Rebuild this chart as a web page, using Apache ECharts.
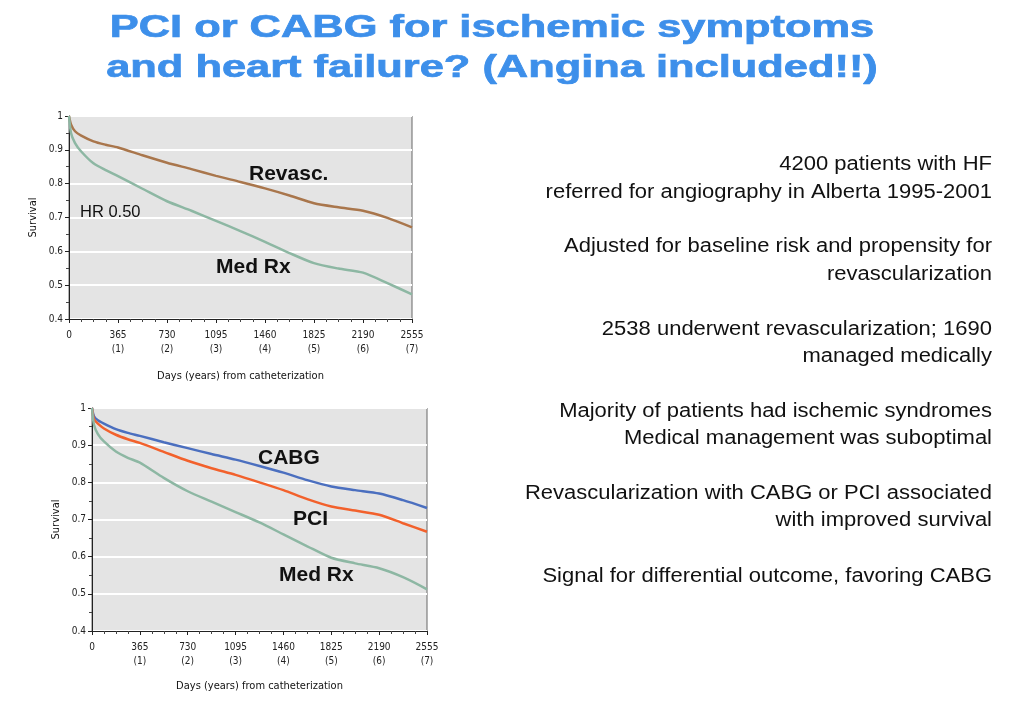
<!DOCTYPE html>
<html><head><meta charset="utf-8">
<script src="https://cdn.jsdelivr.net/npm/echarts@6/dist/echarts.min.js"></script>
<style>html,body{margin:0;padding:0;background:#fff}#c{width:1024px;height:720px}</style>
</head><body><div id="c"></div>
<script>
const days = [0, 15, 45, 91, 182, 273, 365, 547, 730, 912, 1095, 1277, 1460, 1642, 1825, 2007, 2190, 2372, 2555];
const topRevasc = [1.0, 0.975, 0.955, 0.942, 0.925, 0.915, 0.907, 0.884, 0.862, 0.843, 0.823, 0.805, 0.786, 0.765, 0.742, 0.730, 0.720, 0.699, 0.671];
const topMedRx = [1.0, 0.95, 0.92, 0.895, 0.86, 0.84, 0.822, 0.785, 0.748, 0.72, 0.69, 0.66, 0.628, 0.595, 0.565, 0.549, 0.537, 0.506, 0.473];
const botCABG = [1.0, 0.978, 0.967, 0.958, 0.943, 0.933, 0.925, 0.908, 0.892, 0.876, 0.861, 0.844, 0.826, 0.806, 0.789, 0.779, 0.770, 0.752, 0.731];
const botPCI = [1.0, 0.97, 0.958, 0.945, 0.928, 0.916, 0.906, 0.882, 0.858, 0.838, 0.82, 0.80, 0.779, 0.755, 0.735, 0.724, 0.713, 0.69, 0.667];
const botMedRx = [1.0, 0.955, 0.93, 0.91, 0.883, 0.866, 0.853, 0.812, 0.776, 0.748, 0.72, 0.692, 0.66, 0.628, 0.597, 0.582, 0.569, 0.545, 0.512];
const yTicks = ['0.4', '0.5', '0.6', '0.7', '0.8', '0.9', '1'];
const titleLines = ['PCI or CABG for ischemic symptoms', 'and heart failure? (Angina included!!)'];
const bullets = [
  ['4200 patients with HF', 'referred for angiography in Alberta 1995-2001'],
  ['Adjusted for baseline risk and propensity for', 'revascularization'],
  ['2538 underwent revascularization; 1690', 'managed medically'],
  ['Majority of patients had ischemic syndromes', 'Medical management was suboptimal'],
  ['Revascularization with CABG or PCI associated', 'with improved survival'],
  ['Signal for differential outcome, favoring CABG']
];

const pair = arr => days.map((d, i) => [d, arr[i]]);
const axFont = 'DejaVu Sans Condensed';
function xAxis(gi) {
  return {
    type: 'value', gridIndex: gi, min: 0, max: 2555, interval: 365,
    name: 'Days (years) from catheterization', nameLocation: 'middle', nameGap: gi === 0 ? 52 : 50,
    nameTextStyle: { fontFamily: axFont, fontSize: 11, color: '#111' },
    axisLine: { show: true, lineStyle: { color: '#222', width: 1 } },
    axisTick: { show: true, length: 4, lineStyle: { color: '#222' } },
    minorTick: { show: true, splitNumber: 4, length: 3, lineStyle: { color: '#444' } },
    splitLine: { show: false },
    axisLabel: {
      fontFamily: axFont, fontSize: 10, color: '#222', margin: 9, lineHeight: 14,
      formatter: v => v === 0 ? '0\n ' : v + '\n(' + Math.round(v / 365) + ')'
    }
  };
}
function yAxis(gi) {
  return {
    type: 'value', gridIndex: gi, min: 0.4, max: 1, interval: 0.1,
    name: 'Survival', nameLocation: 'middle', nameGap: 30, nameRotate: 90,
    nameTextStyle: { fontFamily: axFont, fontSize: 11, color: '#111' },
    axisLine: { show: true, lineStyle: { color: '#222', width: 1 } },
    axisTick: { show: true, length: 4, lineStyle: { color: '#222' } },
    minorTick: { show: true, splitNumber: 2, length: 3, lineStyle: { color: '#444' } },
    splitLine: { show: true, lineStyle: { color: '#ffffff', width: 2 } },
    axisLabel: {
      fontFamily: axFont, fontSize: 10, color: '#222', margin: 6,
      formatter: v => yTicks[Math.round((v - 0.4) * 10)]
    }
  };
}
function line(name, arr, gi, color) {
  return { name, type: 'line', xAxisIndex: gi, yAxisIndex: gi, data: pair(arr), showSymbol: false,
    smooth: 0.25, lineStyle: { color, width: 2.5 }, itemStyle: { color }, z: 3 };
}
const bold = { fontFamily: 'Liberation Sans', fontWeight: 'bold', fontSize: 21, fill: '#111' };
const graphics = [];
const titleY = [28, 68];
titleLines.forEach((t, i) => graphics.push({ type: 'text', x: 492, y: titleY[i], scaleX: 1.4,
  style: { text: t, fontFamily: 'Liberation Sans', fontWeight: 'bold', fontSize: 31, fill: '#3d8fea',
    stroke: '#3d8fea', lineWidth: 0.7, align: 'center', verticalAlign: 'middle' } }));
const ys = [[164, 192], [246, 274], [329, 356], [411, 438], [493, 520], [576]];
bullets.forEach((b, i) => b.forEach((t, j) => graphics.push({ type: 'text', x: 992, y: ys[i][j], scaleX: 1.1,
  style: { text: t, fontFamily: 'Liberation Sans', fontSize: 20, fill: '#111', align: 'right', verticalAlign: 'middle' } })));
[['Revasc.', 249, 174, true], ['HR 0.50', 80, 212, false], ['Med Rx', 216, 267, true],
 ['CABG', 258, 458, true], ['PCI', 293, 519, true], ['Med Rx', 279, 575, true]].forEach(([t, x, y, b]) =>
  graphics.push({ type: 'text', x, y, z: 10, style: Object.assign({}, b ? bold : { fontFamily: 'Liberation Sans', fontSize: 16.5, fill: '#111' },
    { text: t, verticalAlign: 'middle' }) }));

const chart = echarts.init(document.getElementById('c'), null, { renderer: 'canvas' });
chart.setOption({
  animation: false,
  backgroundColor: '#ffffff',
  grid: [
    { left: 69, top: 116, width: 343, height: 203, show: true, backgroundColor: '#e4e4e4', borderColor: '#666', borderWidth: 1 },
    { left: 92, top: 408, width: 335, height: 223, show: true, backgroundColor: '#e4e4e4', borderColor: '#666', borderWidth: 1 }
  ],
  xAxis: [xAxis(0), xAxis(1)],
  yAxis: [yAxis(0), yAxis(1)],
  series: [
    line('Revasc.', topRevasc, 0, '#a9764c'),
    line('Med Rx', topMedRx, 0, '#8db7a3'),
    line('CABG', botCABG, 1, '#4b6fbf'),
    line('PCI', botPCI, 1, '#f2612c'),
    line('Med Rx', botMedRx, 1, '#8db7a3')
  ],
  graphic: graphics
});
</script></body></html>
